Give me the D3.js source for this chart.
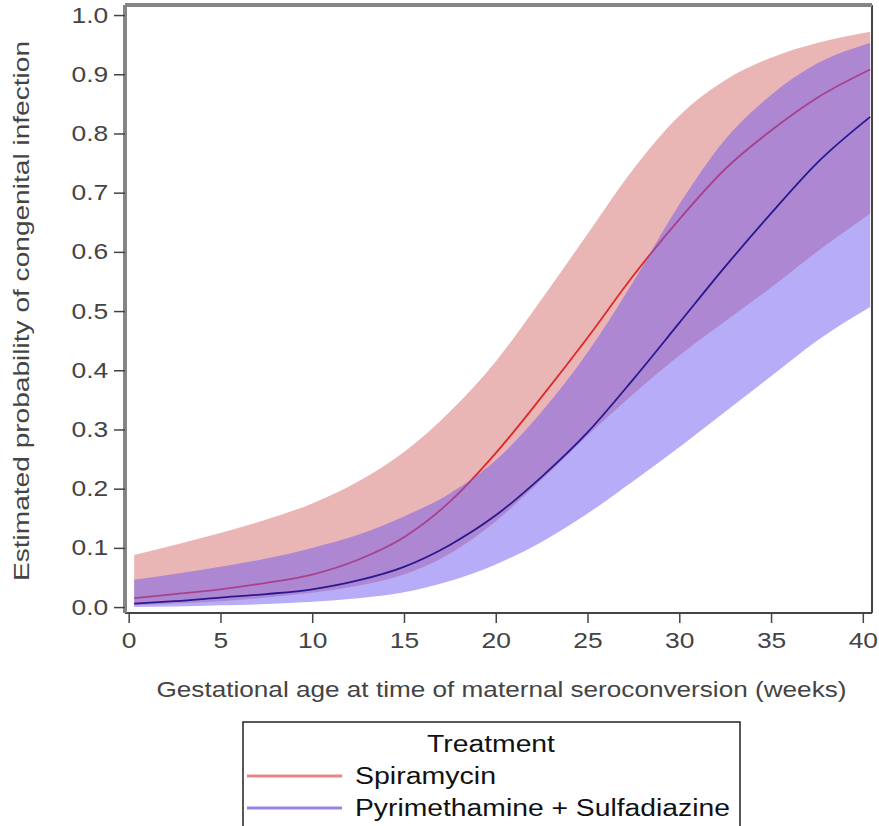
<!DOCTYPE html>
<html lang="en">
<head>
<meta charset="UTF-8"/>
<title>Congenital infection by gestational age</title>
<script src="https://d3js.org/d3.v7.min.js"></script>
<style>
  body { margin: 0; background: #fff; }
  text { font-family: "Liberation Sans", Arial, sans-serif; }
</style>
</head>
<body>
<script>
var weeks = [0.3, 2.5, 5, 7.5, 10, 12.5, 15, 17.5, 20, 22.5, 25, 27.5, 30, 32.5, 35, 37.5, 40.4];

// Spiramycin: estimate and 95% band
var spiraMid = [0.015, 0.022, 0.030, 0.041, 0.055, 0.080, 0.118, 0.178, 0.260, 0.355, 0.455, 0.560, 0.655, 0.740, 0.805, 0.860, 0.908];
var spiraUp  = [0.088, 0.105, 0.125, 0.148, 0.175, 0.212, 0.262, 0.330, 0.415, 0.520, 0.630, 0.740, 0.830, 0.890, 0.928, 0.953, 0.972];
var spiraLo  = [0.003, 0.006, 0.010, 0.016, 0.024, 0.036, 0.055, 0.090, 0.145, 0.215, 0.290, 0.360, 0.425, 0.483, 0.540, 0.600, 0.665];

// Pyrimethamine + Sulfadiazine
var psMid = [0.006, 0.010, 0.016, 0.022, 0.030, 0.045, 0.068, 0.105, 0.155, 0.220, 0.295, 0.385, 0.480, 0.575, 0.665, 0.750, 0.828];
var psUp  = [0.046, 0.056, 0.068, 0.082, 0.100, 0.122, 0.153, 0.192, 0.248, 0.330, 0.430, 0.550, 0.680, 0.790, 0.865, 0.918, 0.953];
var psLo  = [0.000, 0.001, 0.003, 0.005, 0.009, 0.015, 0.025, 0.044, 0.072, 0.110, 0.158, 0.213, 0.270, 0.330, 0.390, 0.450, 0.507];

var xTicks = [0, 5, 10, 15, 20, 25, 30, 35, 40];
var yTicks = [0, 0.1, 0.2, 0.3, 0.4, 0.5, 0.6, 0.7, 0.8, 0.9, 1.0];
var legendNames = ["Spiramycin", "Pyrimethamine + Sulfadiazine"];

var w = 879, h = 826;
var pLeft = 125, pRight = 872, pTop = 5, pBottom = 613;

var svg = d3.select("body").append("svg")
    .attr("width", w)
    .attr("height", h);

var xScale = d3.scaleLinear().domain([-0.2, 40.5]).range([pLeft, pRight]);
var yScale = d3.scaleLinear().domain([-0.01, 1.017]).range([pBottom, pTop]);

function band(lo, up) {
    return d3.area()
        .x(function(d, i) { return xScale(weeks[i]); })
        .y0(function(d, i) { return yScale(lo[i]); })
        .y1(function(d, i) { return yScale(up[i]); })
        .curve(d3.curveMonotoneX)(weeks);
}
function line(vals) {
    return d3.line()
        .x(function(d, i) { return xScale(weeks[i]); })
        .y(function(d, i) { return yScale(vals[i]); })
        .curve(d3.curveMonotoneX)(weeks);
}

/* bands and lines; PS band sits over the spiramycin line */
svg.append("path").attr("d", band(spiraLo, spiraUp))
    .attr("fill", "rgb(208,92,92)").attr("fill-opacity", 0.45);
svg.append("path").attr("d", line(spiraMid))
    .attr("fill", "none").attr("stroke", "#e02828").attr("stroke-width", 1.8);
svg.append("path").attr("d", band(psLo, psUp))
    .attr("fill", "rgb(112,90,240)").attr("fill-opacity", 0.5);
svg.append("path").attr("d", line(psMid))
    .attr("fill", "none").attr("stroke", "#2a1890").attr("stroke-width", 1.8);

/* frame */
svg.append("line").attr("x1", pLeft).attr("x2", pRight).attr("y1", pBottom).attr("y2", pBottom)
    .attr("stroke", "#444").attr("stroke-width", 2);
svg.append("line").attr("x1", pRight).attr("x2", pRight).attr("y1", pTop).attr("y2", pBottom)
    .attr("stroke", "#444").attr("stroke-width", 2);
svg.append("line").attr("x1", pLeft).attr("x2", pRight).attr("y1", pTop).attr("y2", pTop)
    .attr("stroke", "#858585").attr("stroke-width", 4);
svg.append("line").attr("x1", pLeft).attr("x2", pLeft).attr("y1", pTop).attr("y2", pBottom)
    .attr("stroke", "#858585").attr("stroke-width", 4);

/* X axis */
var xAxis = d3.axisBottom(xScale).tickValues(xTicks).tickSize(10).tickPadding(9);
var gx = svg.append("g")
    .attr("transform", "translate(0," + pBottom + ")")
    .call(xAxis);
gx.select(".domain").remove();
gx.selectAll("line").attr("stroke", "#444").attr("stroke-width", 1.5);
gx.selectAll("text").attr("font-size", "22px").attr("fill", "#444")
    .attr("font-family", "Liberation Sans, Arial, sans-serif")
    .attr("transform", "scale(1.2,1)");

svg.append("text")
    .attr("x", (pLeft + pRight) / 2 + 3)
    .attr("y", 697)
    .attr("text-anchor", "middle")
    .attr("font-size", "22px")
    .attr("fill", "#444")
    .attr("textLength", 690)
    .attr("lengthAdjust", "spacingAndGlyphs")
    .text("Gestational age at time of maternal seroconversion (weeks)");

/* Y axis */
var yAxis = d3.axisLeft(yScale).tickValues(yTicks).tickSize(11).tickPadding(3)
    .tickFormat(d3.format(".1f"));
var gy = svg.append("g")
    .attr("transform", "translate(" + pLeft + ",0)")
    .call(yAxis);
gy.select(".domain").remove();
gy.selectAll("line").attr("stroke", "#444").attr("stroke-width", 1.5);
gy.selectAll("text").attr("font-size", "22px").attr("fill", "#444")
    .attr("font-family", "Liberation Sans, Arial, sans-serif")
    .attr("transform", "scale(1.2,1)");

svg.append("text")
    .attr("transform", "rotate(-90)")
    .attr("x", -311)
    .attr("y", 29)
    .attr("text-anchor", "middle")
    .attr("font-size", "22px")
    .attr("fill", "#444")
    .attr("textLength", 540)
    .attr("lengthAdjust", "spacingAndGlyphs")
    .text("Estimated probability of congenital infection");

/* Legend */
var lg = svg.append("g");
lg.append("rect")
    .attr("x", 243).attr("y", 722)
    .attr("width", 497).attr("height", 130)
    .attr("fill", "#fff").attr("stroke", "#222").attr("stroke-width", 1.5);
lg.append("text")
    .attr("x", 491).attr("y", 752)
    .attr("text-anchor", "middle")
    .attr("font-size", "23px").attr("fill", "#111")
    .attr("textLength", 128)
    .attr("lengthAdjust", "spacingAndGlyphs")
    .text("Treatment");
var legendColors = ["#e88686", "#9a84e2"];
var legendLens = [141, 375];
legendNames.forEach(function(name, i) {
    var yy = 776 + i * 32;
    lg.append("line")
        .attr("x1", 247).attr("x2", 342).attr("y1", yy).attr("y2", yy)
        .attr("stroke", legendColors[i]).attr("stroke-width", 3);
    lg.append("text")
        .attr("x", 355).attr("y", yy + 8)
        .attr("font-size", "23px").attr("fill", "#111")
        .attr("textLength", legendLens[i])
        .attr("lengthAdjust", "spacingAndGlyphs")
        .text(name);
});
</script>
</body>
</html>
